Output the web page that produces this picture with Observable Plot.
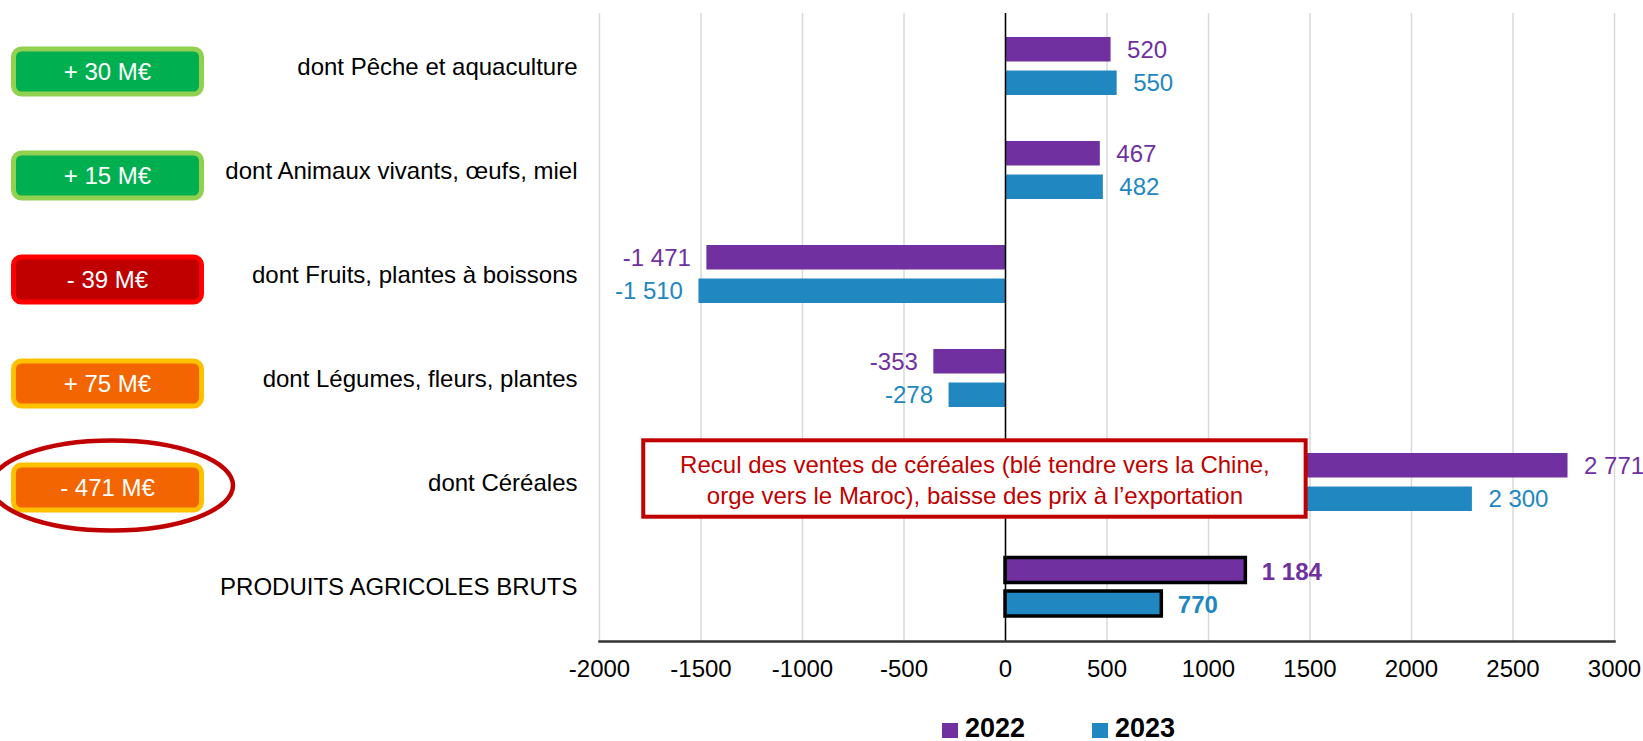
<!DOCTYPE html>
<html>
<head>
<meta charset="utf-8">
<script src="https://cdn.jsdelivr.net/npm/d3@7"></script>
<script src="https://cdn.jsdelivr.net/npm/@observablehq/plot@0.6"></script>
<style>
  html, body { margin: 0; padding: 0; background: #fff; overflow: hidden; }
  #chart svg { display: block; }
  #legend { position: relative; height: 41px; font: bold 27px "Liberation Sans", Arial, sans-serif; color: #000; }
  #legend .sw { position: absolute; top: 23px; width: 16px; height: 15px; }
  #legend .lb { position: absolute; top: 15px; line-height: 27px; }
</style>
</head>
<body>
<div id="chart"></div>
<div id="legend"></div>
<script>
// ---- data ----
const categories = [
  "dont Pêche et aquaculture",
  "dont Animaux vivants, œufs, miel",
  "dont Fruits, plantes à boissons",
  "dont Légumes, fleurs, plantes",
  "dont Céréales",
  "PRODUITS AGRICOLES BRUTS"
];
const years = ["2022", "2023"];
const values2022 = [520, 467, -1471, -353, 2771, 1184];
const values2023 = [550, 482, -1510, -278, 2300, 770];
const totalCategory = "PRODUITS AGRICOLES BRUTS";
const xTicks = [-2000, -1500, -1000, -500, 0, 500, 1000, 1500, 2000, 2500, 3000];
const badgeLabels = ["+ 30 M€", "+ 15 M€", "- 39 M€", "+ 75 M€", "- 471 M€"];
const badgeKinds = ["green", "green", "red", "orange", "orange"];
const highlightedBadge = "dont Céréales";
const noteCategory = "dont Céréales";
const noteText = "Recul des ventes de céréales (blé tendre vers la Chine,\norge vers le Maroc), baisse des prix à l’exportation";
const noteSpan = [-1782, 1481];

// ---- styles ----
const colors = {"2022": "#7030A0", "2023": "#2187C0"};
const badgeStyle = {
  green: {fill: "#00B050", stroke: "#92D050"},
  red: {fill: "#C00000", stroke: "#FF0000"},
  orange: {fill: "#F26500", stroke: "#FFC000"}
};
const font = "'Liberation Sans', Arial, sans-serif";
const barInsets = {"2022": {top: 22, bottom: 57.5, dy: -17.5}, "2023": {top: 55.5, bottom: 24, dy: 15.8}};

const loc = d3.formatLocale({decimal: ",", thousands: "\u00a0", grouping: [3], currency: ["", ""], minus: "-"});
const fmt = loc.format(",d");

const rows = [];
categories.forEach((c, i) => {
  rows.push({cat: c, year: "2022", value: values2022[i], label: fmt(values2022[i]), total: c === totalCategory});
  rows.push({cat: c, year: "2023", value: values2023[i], label: fmt(values2023[i]), total: c === totalCategory});
});

const marks = [
  Plot.ruleX(xTicks, {stroke: "#D9D9D9", strokeWidth: 1.5})
];
for (const yr of years) {
  const ins = barInsets[yr];
  marks.push(Plot.barX(rows.filter(d => d.year === yr && !d.total), {
    x: "value", y: "cat", fill: colors[yr], insetTop: ins.top, insetBottom: ins.bottom
  }));
  marks.push(Plot.barX(rows.filter(d => d.year === yr && d.total), {
    x: "value", y: "cat", fill: colors[yr], stroke: "black", strokeWidth: 3.5,
    insetTop: ins.top + 0.5, insetBottom: ins.bottom - 1
  }));
}
marks.push(Plot.ruleX([0], {stroke: "black", strokeWidth: 1.5}));
marks.push(Plot.frame({anchor: "bottom", stroke: "#333", strokeWidth: 2.5}));
for (const yr of years) {
  const ins = barInsets[yr];
  for (const pos of [true, false]) {
    for (const bold of [false, true]) {
      marks.push(Plot.text(rows.filter(d => d.year === yr && (d.value >= 0) === pos && d.total === bold), {
        x: "value", y: "cat", text: "label", fill: colors[yr],
        textAnchor: pos ? "start" : "end", dx: pos ? 16 : -16, dy: ins.dy + (bold ? 2 : 0),
        fontSize: 24, fontWeight: bold ? "bold" : "normal"
      }));
    }
  }
}
// annotation box
marks.push(Plot.barX([{cat: noteCategory}], {
  x1: () => noteSpan[0], x2: () => noteSpan[1], y: "cat",
  fill: "white", stroke: "#C00000", strokeWidth: 4, insetTop: 9.3, insetBottom: 18.3
}));
marks.push(Plot.text([{cat: noteCategory}], {
  x: () => (noteSpan[0] + noteSpan[1]) / 2, y: "cat", text: () => noteText,
  fill: "#C00000", fontSize: 24, lineHeight: 1.29, dy: -4.5, textAnchor: "middle"
}));

const chart = Plot.plot({
  width: 1643,
  height: 700,
  marginLeft: 599,
  marginRight: 29,
  marginTop: 13,
  marginBottom: 59,
  style: {fontFamily: font, fontSize: "24px", color: "black", background: "white", overflow: "visible"},
  x: {domain: [-2000, 3000], ticks: xTicks, tickSize: 0, tickPadding: 18, tickFormat: d => String(d), label: null},
  y: {domain: categories, padding: 0, tickSize: 0, tickPadding: 22, label: null},
  marks
});

// badges and highlight ellipse placed from the y scale
const ys = chart.scale("y");
const bw = ys.bandwidth;
const svg = d3.select(chart);
const g = svg.append("g");
badgeLabels.forEach((lab, i) => {
  const c = categories[i];
  const cy = ys.apply(c) + bw / 2 + 4.5;
  const st = badgeStyle[badgeKinds[i]];
  g.append("rect").attr("x", 13.5).attr("y", cy - 22.5).attr("width", 188).attr("height", 45)
    .attr("rx", 8).attr("fill", st.fill).attr("stroke", st.stroke).attr("stroke-width", 5);
  g.append("text").attr("x", 107.5).attr("y", cy).attr("dy", "0.35em")
    .attr("text-anchor", "middle").attr("fill", "white")
    .style("font-family", font).style("font-size", "24px").text(lab);
  if (c === highlightedBadge) {
    g.append("ellipse").attr("cx", 112).attr("cy", cy - 2).attr("rx", 121).attr("ry", 45)
      .attr("fill", "none").attr("stroke", "#C00000").attr("stroke-width", 4.5);
  }
});

document.getElementById("chart").appendChild(chart);

// legend
const legend = document.getElementById("legend");
const legendX = [942, 1092];
years.forEach((yr, i) => {
  const sw = document.createElement("span");
  sw.className = "sw";
  sw.style.left = legendX[i] + "px";
  sw.style.background = colors[yr];
  legend.appendChild(sw);
  const lb = document.createElement("span");
  lb.className = "lb";
  lb.style.left = (legendX[i] + 23) + "px";
  lb.textContent = yr;
  legend.appendChild(lb);
});
</script>
</body>
</html>
